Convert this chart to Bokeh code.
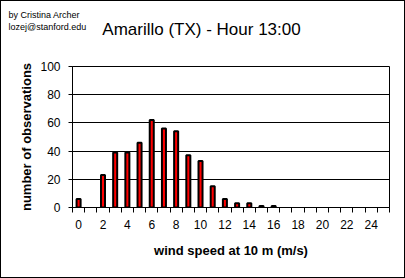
from bokeh.plotting import figure
from bokeh.models import Range1d, FixedTicker, Label, ColumnDataSource
from bokeh.embed import file_html
from bokeh.resources import INLINE

# ---- data ----
speeds = list(range(26))
counts = [6, 0, 23, 39, 39, 46, 62, 56, 54, 37, 33, 15, 6, 3, 3, 1, 1,
          0, 0, 0, 0, 0, 0, 0, 0, 0]
tick_labels = [0, 2, 4, 6, 8, 10, 12, 14, 16, 18, 20, 22, 24]
y_ticks = [0, 20, 40, 60, 80, 100]
title_text = "Amarillo (TX) - Hour 13:00"
credit_lines = ["by Cristina Archer", "lozej@stanford.edu"]
x_title = "wind speed at 10 m (m/s)"
y_title = "number of observations"

FONT = "Liberation Sans"

xs = [s for s, c in zip(speeds, counts) if c > 0]
ys = [c for c in counts if c > 0]
src = ColumnDataSource(dict(x=xs, top=ys))

p = figure(width=405, height=278, output_backend="svg", toolbar_location=None,
           x_range=Range1d(-0.5, 25.5), y_range=Range1d(0, 100),
           min_border_left=72, min_border_right=16,
           min_border_top=66, min_border_bottom=71,
           background_fill_color="white", border_fill_alpha=0)
p.styles = {"box-shadow": "inset 0 0 0 1px black", "background-color": "white"}

p.vbar(x="x", top="top", width=0.33, source=src,
       fill_color="#ff0000", line_color="black", line_width=2)

# grid / outline
p.xgrid.visible = False
p.ygrid.grid_line_color = "black"
p.ygrid.grid_line_width = 1
p.outline_line_color = "black"
p.outline_line_width = 1

# y axis
ya = p.yaxis[0]
ya.ticker = FixedTicker(ticks=y_ticks, minor_ticks=[])
ya.axis_line_color = "black"
ya.major_tick_in = 0
ya.major_tick_out = 4
ya.major_tick_line_color = "black"
ya.minor_tick_line_color = None
ya.major_label_standoff = 8
ya.major_label_text_font = FONT
ya.major_label_text_font_size = "12px"
ya.major_label_text_color = "black"
ya.axis_label = y_title
ya.axis_label_text_font = FONT
ya.axis_label_text_font_style = "bold"
ya.axis_label_text_font_size = "13px"
ya.axis_label_text_color = "black"
ya.axis_label_standoff = 3

# x axis
xa = p.xaxis[0]
xa.ticker = FixedTicker(ticks=tick_labels,
                        minor_ticks=[s - 0.5 for s in speeds] + [speeds[-1] + 0.5])
xa.axis_line_color = "black"
xa.major_tick_in = 0
xa.major_tick_out = 0
xa.minor_tick_in = 0
xa.minor_tick_out = 5
xa.minor_tick_line_color = "black"
xa.major_label_standoff = 7
xa.major_label_text_font = FONT
xa.major_label_text_font_size = "12px"
xa.major_label_text_color = "black"
xa.axis_label = x_title
xa.axis_label_text_font = FONT
xa.axis_label_text_font_style = "bold"
xa.axis_label_text_font_size = "13px"
xa.axis_label_text_color = "black"
xa.axis_label_standoff = 11

# title and credits, in canvas pixels, in the top panel (not clipped)
p.add_layout(Label(x=201, y=29, x_units="canvas", y_units="canvas",
                   text=title_text, text_align="center",
                   text_baseline="alphabetic", text_font=FONT,
                   text_font_size="17px", text_color="black"), "above")
p.add_layout(Label(x=8, y=14, x_units="canvas", y_units="canvas",
                   text=credit_lines[0], text_align="left",
                   text_baseline="alphabetic", text_font=FONT,
                   text_font_size="9px", text_color="black"), "above")
p.add_layout(Label(x=8, y=26, x_units="canvas", y_units="canvas",
                   text=credit_lines[1], text_align="left",
                   text_baseline="alphabetic", text_font=FONT,
                   text_font_size="9px", text_color="black"), "above")

open("out.html", "w").write(file_html(p, INLINE))
